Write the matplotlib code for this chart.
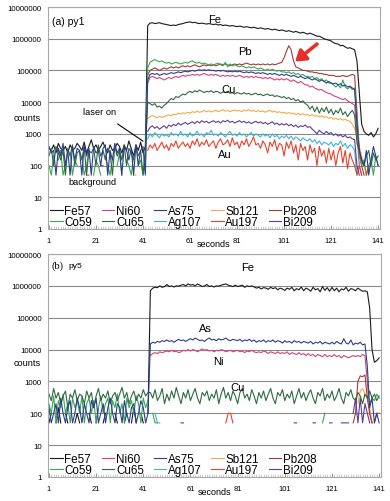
import numpy as np
import matplotlib
matplotlib.use("Agg")
import matplotlib.pyplot as plt
from matplotlib.ticker import FixedLocator, MultipleLocator, NullLocator
import matplotlib.transforms as mtransforms

plt.rcParams['font.family'] = ['Liberation Sans', 'DejaVu Sans']

seconds = list(range(1, 142))
x_ticks = [1, 21, 41, 61, 81, 101, 121, 141]
y_ticks = [1, 10, 100, 1000, 10000, 100000, 1000000, 10000000]

isotopes = ['Fe57', 'Co59', 'Ni60', 'Cu65', 'As75', 'Ag107', 'Sb121', 'Au197', 'Pb208', 'Bi209']
colors = {'Fe57': '#1a1a1a', 'Co59': '#3aa655', 'Ni60': '#d3437a', 'Cu65': '#2d6a3e',
          'As75': '#2c3e8c', 'Ag107': '#3cb4d8', 'Sb121': '#f5a94a', 'Au197': '#e8412c',
          'Pb208': '#a33a3a', 'Bi209': '#5c3d99'}

# ---------------- (a) py1 : s1-42 background, s43-132 signal, s133-141 washout
fe_a = ([350, 300, 450, 250, 500, 350, 300, 400, 250, 450, 300, 350, 500, 400, 300, 550, 250, 400, 650, 350,
         450, 300, 400, 550, 350, 250, 450, 300, 350, 500, 400, 250, 450, 300, 600, 350, 200, 450, 300, 550, 250, 400]
        + [2.6e6, 3.1e6, 3.2e6, 3.0e6, 3.1e6, 3.2e6, 3.0e6, 2.9e6,
           2.8e6, 2.7e6, 2.6e6, 2.7e6, 2.6e6, 2.8e6, 2.9e6, 3.0e6, 3.2e6, 3.3e6,
           3.4e6, 3.2e6, 3.3e6, 3.1e6, 3.0e6, 3.1e6, 3.0e6, 2.9e6, 3.0e6, 2.9e6,
           2.8e6, 2.9e6, 2.7e6, 2.8e6, 2.6e6, 2.7e6, 2.6e6, 2.5e6, 2.6e6, 2.5e6,
           2.4e6, 2.5e6, 2.4e6, 2.3e6, 2.4e6, 2.3e6, 2.2e6, 2.3e6, 2.2e6, 2.1e6,
           2.2e6, 2.1e6, 2.0e6, 2.1e6, 2.0e6, 1.9e6, 2.0e6, 1.9e6, 1.8e6, 1.9e6,
           1.8e6, 1.7e6, 1.8e6, 1.7e6, 1.6e6, 1.7e6, 1.6e6, 1.5e6, 1.6e6, 1.5e6,
           1.4e6, 1.5e6, 1.4e6, 1.3e6, 1.2e6, 1.2e6, 1.1e6, 1.0e6, 9.5e5, 9.0e5,
           8.5e5, 7.5e5, 7.0e5, 6.8e5, 6.0e5, 6.2e5, 5.5e5, 5.0e5, 5.2e5, 4.8e5, 4.5e5, 2.0e5]
        + [2.0e4, 2.0e3, 1.2e3, 1.0e3, 900, 1.1e3, 800, 1.0e3, 1.5e3])

co_a = ([100, 50, 200, 0, 150, 300, 50, 100, 0, 250, 50, 150, 100, 0, 200, 50, 100, 300, 0, 50,
         150, 100, 50, 0, 200, 100, 50, 150, 0, 100, 250, 50, 0, 150, 100, 50, 200, 0, 100, 150, 50, 100]
        + [1.2e5, 1.8e5, 2.0e5, 2.2e5, 2.0e5, 1.9e5, 2.0e5, 1.8e5,
           1.7e5, 1.8e5, 1.6e5, 1.7e5, 1.8e5, 1.7e5, 1.6e5, 1.7e5, 1.8e5, 1.7e5,
           1.9e5, 2.0e5, 1.8e5, 1.7e5, 1.8e5, 1.6e5, 1.7e5, 1.6e5, 1.5e5, 1.6e5,
           1.5e5, 1.6e5, 1.7e5, 1.5e5, 1.4e5, 1.8e5, 1.3e5, 1.6e5, 1.4e5, 1.5e5,
           1.4e5, 1.3e5, 1.4e5, 1.3e5, 1.2e5, 1.3e5, 1.2e5, 1.3e5, 1.2e5, 1.1e5,
           1.2e5, 1.1e5, 1.0e5, 1.1e5, 1.0e5, 1.1e5, 1.0e5, 9.5e4, 1.0e5, 9.0e4,
           9.0e4, 8.5e4, 9.0e4, 8.0e4, 8.5e4, 7.5e4, 8.0e4, 7.0e4, 7.5e4, 6.5e4,
           6.5e4, 6.0e4, 6.5e4, 5.5e4, 6.0e4, 5.0e4, 5.5e4, 4.5e4, 5.0e4, 4.0e4,
           4.0e4, 3.5e4, 3.0e4, 3.5e4, 2.8e4, 5.0e4, 3.0e4, 2.6e4, 3.0e4, 2.5e4, 2.8e4, 3.0e3]
        + [200, 100, 150, 50, 100, 150, 50, 200, 100])

ni_a = ([0] * 16 + [50, 50] + [0] * 24
        + [4.0e4, 6.0e4, 6.5e4, 6.0e4, 5.5e4, 6.0e4, 5.5e4, 5.0e4,
           5.5e4, 6.0e4, 5.5e4, 6.0e4, 6.5e4, 6.0e4, 6.5e4, 7.0e4, 6.5e4, 7.0e4,
           7.0e4, 7.5e4, 7.0e4, 7.5e4, 7.0e4, 7.5e4, 8.0e4, 7.5e4, 7.0e4, 7.5e4,
           7.0e4, 7.5e4, 7.0e4, 6.5e4, 7.0e4, 6.5e4, 7.0e4, 6.5e4, 7.0e4, 6.5e4,
           6.5e4, 7.0e4, 6.5e4, 6.0e4, 6.5e4, 6.0e4, 6.5e4, 6.0e4, 6.5e4, 6.0e4,
           6.0e4, 5.5e4, 6.0e4, 5.5e4, 6.0e4, 5.5e4, 5.0e4, 5.5e4, 5.0e4, 5.5e4,
           5.0e4, 5.5e4, 5.0e4, 4.5e4, 5.0e4, 4.5e4, 4.0e4, 4.5e4, 4.0e4, 3.5e4,
           3.5e4, 3.0e4, 3.2e4, 2.8e4, 2.6e4, 2.4e4, 2.5e4, 2.2e4, 2.0e4, 1.9e4,
           1.8e4, 1.6e4, 1.5e4, 1.4e4, 1.3e4, 1.2e4, 1.3e4, 1.1e4, 1.0e4, 9.0e3, 8.0e3, 1.0e3]
        + [100, 50, 0, 50, 0, 0, 50, 0, 0])

cu_a = ([200, 350, 100, 400, 250, 150, 300, 50, 350, 200, 450, 100, 250, 300, 150, 400, 50, 300, 250, 350,
         100, 450, 200, 300, 150, 350, 250, 50, 400, 200, 300, 150, 450, 100, 350, 250, 150, 400, 200, 300, 50, 350]
        + [1.0e4, 9.0e3, 8.0e3, 9.0e3, 7.0e3, 7.5e3, 6.5e3, 8.0e3,
           9.0e3, 1.1e4, 1.3e4, 1.2e4, 1.5e4, 1.4e4, 1.6e4, 1.8e4, 1.7e4, 2.0e4,
           2.2e4, 2.0e4, 2.3e4, 2.1e4, 2.4e4, 2.2e4, 2.0e4, 2.2e4, 2.1e4, 2.3e4,
           2.0e4, 2.2e4, 2.1e4, 1.9e4, 2.1e4, 2.0e4, 2.2e4, 1.9e4, 2.0e4, 1.8e4,
           2.0e4, 1.9e4, 1.8e4, 2.0e4, 1.8e4, 1.9e4, 1.7e4, 1.8e4, 1.9e4, 1.7e4,
           1.8e4, 1.6e4, 1.7e4, 1.8e4, 1.6e4, 1.7e4, 1.5e4, 1.6e4, 1.5e4, 1.4e4,
           1.5e4, 1.3e4, 1.4e4, 1.2e4, 1.3e4, 1.1e4, 1.2e4, 1.0e4, 1.1e4, 9.0e3,
           8.0e3, 6.0e3, 7.5e3, 5.0e3, 7.0e3, 4.5e3, 6.5e3, 5.0e3, 7.0e3, 4.5e3,
           6.0e3, 4.0e3, 5.5e3, 4.5e3, 6.5e3, 4.0e3, 5.0e3, 3.5e3, 4.5e3, 5.5e3, 4.0e3, 5.0e2]
        + [300, 150, 100, 200, 300, 100, 250, 150, 200])

as_a = ([400, 250, 300, 50, 350, 200, 500, 100, 300, 50, 400, 150, 350, 300, 50, 450, 200, 350, 50, 400,
         250, 300, 100, 350, 450, 50, 300, 150, 500, 250, 350, 50, 400, 300, 150, 350, 50, 450, 100, 300, 400, 50]
        + [5.0e4, 7.5e4, 8.0e4, 7.5e4, 8.0e4, 7.0e4, 7.5e4, 8.0e4,
           7.5e4, 8.0e4, 8.5e4, 8.0e4, 8.5e4, 9.0e4, 8.5e4, 9.0e4, 9.5e4, 9.0e4,
           9.5e4, 1.0e5, 9.5e4, 1.0e5, 1.05e5, 1.0e5, 1.05e5, 1.0e5, 1.05e5, 1.0e5,
           1.0e5, 9.5e4, 1.0e5, 9.5e4, 1.0e5, 9.5e4, 9.0e4, 9.5e4, 9.0e4, 9.5e4,
           9.0e4, 9.5e4, 9.0e4, 8.5e4, 9.0e4, 8.5e4, 9.0e4, 8.5e4, 8.0e4, 8.5e4,
           8.0e4, 8.5e4, 8.0e4, 7.5e4, 8.0e4, 7.5e4, 8.0e4, 7.5e4, 7.0e4, 7.5e4,
           7.0e4, 7.5e4, 7.0e4, 6.5e4, 7.0e4, 6.5e4, 6.0e4, 6.5e4, 6.0e4, 5.5e4,
           6.0e4, 5.5e4, 5.0e4, 5.5e4, 5.0e4, 4.5e4, 5.0e4, 4.5e4, 4.0e4, 4.5e4,
           4.0e4, 3.8e4, 4.0e4, 3.5e4, 3.8e4, 3.2e4, 3.5e4, 3.0e4, 3.2e4, 2.8e4, 2.5e4, 2.0e3]
        + [300, 150, 100, 300, 50, 150, 400, 200, 100])

ag_a = ([0] * 42
        + [700, 1.0e3, 800, 1.1e3, 900, 750, 1.0e3, 850,
           950, 800, 1.1e3, 900, 1.0e3, 850, 1.2e3, 900, 1.0e3, 800,
           1.1e3, 850, 950, 1.2e3, 900, 1.0e3, 800, 1.1e3, 950, 1.3e3,
           900, 1.0e3, 850, 1.1e3, 950, 800, 1.0e3, 1.2e3, 900, 1.0e3,
           850, 1.1e3, 900, 1.0e3, 800, 950, 1.1e3, 850, 1.0e3, 900,
           800, 1.0e3, 850, 950, 750, 1.0e3, 800, 900, 700, 850,
           750, 900, 700, 850, 650, 800, 700, 600, 750, 650,
           600, 700, 550, 650, 500, 600, 450, 550, 500, 450,
           550, 400, 500, 450, 600, 400, 500, 350, 450, 400, 300, 50]
        + [0, 50, 0, 0, 0, 0, 0, 0, 0])

sb_a = ([0] * 36 + [50, 50] + [0] * 4
        + [3.0e3, 3.5e3, 3.8e3, 3.5e3, 3.2e3, 3.6e3, 3.3e3, 3.5e3,
           3.8e3, 4.0e3, 3.7e3, 4.2e3, 4.0e3, 4.5e3, 4.2e3, 4.6e3, 4.4e3, 4.8e3,
           4.5e3, 5.0e3, 4.7e3, 5.2e3, 4.8e3, 5.0e3, 5.5e3, 5.0e3, 5.3e3, 4.9e3,
           5.2e3, 5.6e3, 5.0e3, 5.4e3, 5.8e3, 5.2e3, 5.5e3, 5.0e3, 5.4e3, 5.7e3,
           5.2e3, 5.5e3, 5.0e3, 5.6e3, 5.3e3, 5.8e3, 5.2e3, 5.5e3, 5.0e3, 5.4e3,
           5.0e3, 5.3e3, 4.8e3, 5.2e3, 5.5e3, 4.9e3, 5.2e3, 4.7e3, 5.0e3, 4.6e3,
           4.8e3, 4.4e3, 4.7e3, 4.3e3, 4.5e3, 4.1e3, 4.4e3, 4.0e3, 4.3e3, 3.9e3,
           4.1e3, 3.7e3, 4.0e3, 3.6e3, 3.8e3, 3.4e3, 3.7e3, 3.3e3, 3.5e3, 3.1e3,
           3.3e3, 2.9e3, 3.1e3, 2.8e3, 3.0e3, 2.7e3, 2.9e3, 2.6e3, 2.5e3, 2.0e3, 1.5e3, 800]
        + [400, 200, 100, 50, 0, 50, 0, 0, 0])

au_a = ([0] * 22 + [100, 100] + [0] * 18
        + [300, 450, 350, 500, 300, 400, 550, 350,
           450, 300, 500, 400, 600, 350, 450, 550, 400, 500,
           350, 600, 450, 700, 400, 550, 450, 650, 400, 500,
           600, 350, 550, 700, 450, 500, 650, 400, 750, 450,
           550, 350, 600, 450, 700, 400, 550, 800, 450, 500,
           350, 600, 450, 250, 550, 400, 650, 300, 500, 450,
           200, 550, 350, 600, 250, 450, 150, 500, 300, 400,
           150, 450, 250, 350, 100, 400, 200, 300, 120, 350,
           150, 300, 100, 250, 400, 120, 300, 80, 250, 150, 100, 50]
        + [100, 50, 0, 50, 100, 0, 50, 0, 50])

pb_a = ([0] * 42
        + [7.0e4, 1.0e5, 1.1e5, 1.2e5, 1.1e5, 1.0e5, 1.1e5, 1.2e5,
           1.1e5, 1.2e5, 1.3e5, 1.2e5, 1.3e5, 1.2e5, 1.3e5, 1.4e5, 1.3e5, 1.4e5,
           1.3e5, 1.4e5, 1.5e5, 1.4e5, 1.3e5, 1.4e5, 1.5e5, 1.4e5, 1.5e5, 1.4e5,
           1.5e5, 1.4e5, 1.5e5, 1.6e5, 1.5e5, 1.6e5, 1.5e5, 1.4e5, 1.5e5, 1.6e5,
           1.5e5, 1.6e5, 1.5e5, 1.6e5, 1.7e5, 1.6e5, 1.5e5, 1.6e5, 1.5e5, 1.6e5,
           1.5e5, 1.6e5, 1.5e5, 1.6e5, 1.5e5, 1.6e5, 1.5e5, 1.6e5, 1.7e5, 1.8e5,
           2.5e5, 4.0e5, 6.0e5, 4.5e5, 2.0e5, 1.3e5, 1.2e5, 1.1e5, 1.0e5, 1.0e5,
           9.5e4, 9.0e4, 9.0e4, 8.5e4, 8.5e4, 8.0e4, 8.0e4, 7.5e4, 7.5e4, 7.0e4,
           7.0e4, 7.0e4, 6.5e4, 6.5e4, 6.5e4, 7.0e4, 6.5e4, 6.5e4, 7.0e4, 7.5e4, 7.0e4, 5.0e3]
        + [300, 100, 50, 0, 50, 0, 0, 50, 0])

bi_a = ([0] * 42
        + [1.2e3, 1.6e3, 1.8e3, 1.5e3, 1.7e3, 1.4e3, 1.6e3, 1.8e3,
           1.5e3, 1.9e3, 1.7e3, 2.0e3, 1.8e3, 2.2e3, 1.9e3, 2.1e3, 2.3e3, 2.0e3,
           2.2e3, 2.4e3, 2.1e3, 2.5e3, 2.2e3, 2.6e3, 2.3e3, 2.5e3, 2.2e3, 2.4e3,
           2.6e3, 2.3e3, 2.5e3, 2.2e3, 2.6e3, 2.4e3, 2.7e3, 2.3e3, 2.5e3, 2.2e3,
           2.4e3, 2.6e3, 2.3e3, 2.5e3, 2.2e3, 2.4e3, 2.1e3, 2.3e3, 2.5e3, 2.2e3,
           2.4e3, 2.1e3, 2.3e3, 2.0e3, 2.2e3, 2.4e3, 2.0e3, 2.2e3, 1.9e3, 2.1e3,
           1.9e3, 2.1e3, 1.8e3, 2.0e3, 1.7e3, 1.9e3, 1.6e3, 1.8e3, 1.7e3, 1.9e3,
           1.6e3, 1.7e3, 1.4e3, 1.2e3, 1.0e3, 1.3e3, 1.1e3, 1.0e3, 1.2e3, 1.0e3,
           1.1e3, 9.0e2, 1.0e3, 8.5e2, 9.5e2, 8.0e2, 9.0e2, 7.5e2, 8.0e2, 7.0e2, 6.5e2, 1.0e2]
        + [50, 0, 0, 50, 0, 0, 0, 0, 0])

# ---------------- (b) py5 : s1-43 background, s44-136 signal, s137-141 washout
fe_b = ([50, 100, 0, 50, 150, 50, 0, 100, 50, 0, 0, 50, 100, 50, 0, 50, 0, 100, 50, 0,
         50, 150, 0, 50, 100, 0, 50, 0, 100, 50, 0, 0, 50, 100, 0, 50, 150, 50, 0, 100, 50, 0, 100]
        + [7.0e5, 8.5e5, 9.0e5, 8.8e5, 1.0e6, 9.0e5, 9.5e5,
           1.1e6, 9.5e5, 1.0e6, 9.2e5, 1.0e6, 9.8e5, 1.05e6, 1.1e6, 1.0e6, 1.15e6,
           1.05e6, 1.1e6, 1.0e6, 1.15e6, 1.05e6, 9.5e5, 1.0e6, 1.1e6, 9.5e5, 1.0e6,
           9.2e5, 1.0e6, 9.8e5, 1.05e6, 1.1e6, 1.15e6, 1.05e6, 1.0e6, 9.5e5, 1.05e6,
           9.5e5, 1.0e6, 1.05e6, 9.0e5, 1.0e6, 9.5e5, 1.0e6, 9.2e5, 8.5e5, 9.0e5,
           8.0e5, 8.8e5, 8.5e5, 7.8e5, 9.0e5, 8.2e5, 8.8e5, 7.5e5, 8.5e5, 8.0e5,
           7.2e5, 8.5e5, 7.8e5, 9.0e5, 7.0e5, 8.2e5, 7.5e5, 9.2e5, 7.0e5, 8.5e5,
           7.8e5, 6.8e5, 9.0e5, 7.5e5, 8.2e5, 6.5e5, 9.5e5, 7.2e5, 8.8e5, 6.8e5,
           9.0e5, 7.0e5, 8.5e5, 6.5e5, 8.0e5, 7.5e5, 9.0e5, 6.8e5, 8.2e5, 7.8e5,
           7.0e5, 8.5e5, 7.5e5, 6.8e5, 7.0e5, 6.5e5]
        + [2.0e5, 1.0e4, 4.0e3, 4.5e3, 5.5e3])

co_b = ([200, 100, 350, 50, 250, 150, 400, 100, 200, 50, 300, 150, 250, 100, 350, 50, 200, 300, 100, 250,
         50, 150, 350, 100, 200, 300, 50, 250, 150, 400, 100, 200, 50, 300, 150, 250, 100, 350, 200, 50,
         300, 150, 250]
        + [0, 100, 50, 50] + [0] * 69 + [50, 100] + [0] * 18
        + [200, 300, 250, 400, 300])

ni_b = ([0] * 43
        + [6.5e3, 7.5e3, 8.0e3, 7.5e3, 8.5e3, 8.0e3, 8.5e3,
           9.0e3, 8.5e3, 9.5e3, 8.5e3, 9.0e3, 8.0e3, 8.5e3, 9.5e3, 9.0e3, 1.0e4,
           9.0e3, 1.0e4, 9.5e3, 8.5e3, 9.5e3, 1.05e4, 9.5e3, 1.0e4, 9.0e3, 9.5e3,
           8.5e3, 9.5e3, 9.0e3, 1.0e4, 9.5e3, 8.5e3, 9.0e3, 9.5e3, 8.5e3, 9.0e3,
           9.5e3, 8.5e3, 9.0e3, 8.0e3, 9.0e3, 8.5e3, 9.5e3, 8.5e3, 8.0e3, 8.5e3,
           8.0e3, 9.0e3, 8.5e3, 7.5e3, 8.5e3, 8.0e3, 7.5e3, 8.5e3, 7.5e3, 8.0e3,
           7.5e3, 8.5e3, 7.0e3, 8.0e3, 7.5e3, 7.0e3, 8.0e3, 7.0e3, 7.5e3, 6.5e3,
           7.5e3, 6.5e3, 7.0e3, 6.0e3, 7.0e3, 6.5e3, 6.0e3, 7.0e3, 6.0e3, 6.5e3,
           6.0e3, 7.0e3, 6.0e3, 6.5e3, 5.5e3, 6.5e3, 6.0e3, 5.5e3, 6.0e3, 6.5e3,
           6.0e3, 6.5e3, 6.0e3, 7.0e3, 6.5e3, 1.0e3]
        + [100, 50, 0, 0, 0])

cu_b = ([400, 250, 600, 300, 450, 200, 350, 500, 150, 400, 300, 550, 250, 400, 350, 200, 500, 300, 450, 150,
         350, 600, 250, 400, 300, 500, 200, 350, 450, 250, 400, 650, 300, 450, 200, 350, 500, 250, 400, 300,
         550, 350, 450]
        + [450, 300, 550, 250, 350, 600, 200,
           400, 250, 500, 300, 650, 350, 200, 450, 300, 550,
           250, 400, 600, 300, 200, 450, 350, 500, 250, 400,
           300, 550, 200, 400, 650, 300, 450, 250, 500, 350,
           200, 450, 600, 300, 400, 250, 550, 350, 200, 450,
           300, 500, 250, 400, 600, 300, 200, 450, 350, 550,
           250, 400, 300, 500, 200, 350, 600, 300, 450, 250,
           400, 550, 300, 200, 450, 350, 600, 250, 400, 300,
           500, 250, 350, 600, 300, 200, 450, 350, 550, 300,
           250, 450, 350, 200, 400, 300]
        + [500, 300, 400, 250, 350])

as_b = ([150, 50, 100, 200, 50, 300, 100, 50, 150, 250, 50, 100, 300, 150, 50, 200, 100, 50, 250, 150,
         300, 50, 100, 200, 50, 150, 300, 100, 50, 200, 150, 50, 250, 100, 50, 150, 200, 50, 100, 250,
         150, 50, 100]
        + [1.5e4, 1.7e4, 1.6e4, 1.8e4, 1.7e4, 1.9e4, 1.8e4,
           2.0e4, 1.8e4, 1.9e4, 1.7e4, 1.9e4, 2.1e4, 1.9e4, 2.0e4, 1.8e4, 2.0e4,
           2.2e4, 2.0e4, 2.3e4, 2.1e4, 1.9e4, 2.0e4, 1.8e4, 2.1e4, 2.3e4, 2.0e4,
           2.1e4, 1.9e4, 2.2e4, 2.0e4, 2.1e4, 2.3e4, 2.0e4, 1.9e4, 2.1e4, 2.0e4,
           1.9e4, 2.1e4, 1.8e4, 2.0e4, 1.9e4, 2.1e4, 1.8e4, 2.0e4, 1.7e4, 1.9e4,
           1.8e4, 2.0e4, 1.7e4, 1.9e4, 1.8e4, 2.0e4, 1.7e4, 1.9e4, 1.8e4, 1.6e4,
           1.9e4, 1.7e4, 1.8e4, 1.6e4, 1.9e4, 1.7e4, 1.8e4, 1.6e4, 1.8e4, 1.7e4,
           1.6e4, 1.8e4, 1.5e4, 1.7e4, 1.6e4, 1.8e4, 1.5e4, 1.7e4, 1.6e4, 1.5e4,
           1.7e4, 1.5e4, 1.8e4, 1.6e4, 1.5e4, 2.2e4, 1.6e4, 1.5e4, 2.0e4, 1.4e4,
           1.6e4, 1.5e4, 1.7e4, 1.4e4, 1.5e4, 3.0e3]
        + [150, 300, 50, 100, 50])

ag_b = [0] * 43 + [0, 0, 100, 50, 50] + [0] * 88 + [0, 0, 0, 0, 0]
sb_b = [0] * 43 + [0] * 88 + [200, 500, 600, 400, 300] + [150, 50, 0, 0, 0]
au_b = [0] * 43 + [0] * 32 + [50, 100, 100, 50] + [0] * 57 + [0, 0, 50, 100, 100]
pb_b = [0] * 43 + [0] * 86 + [50, 100, 1000, 1500, 1400, 1600, 300] + [100, 50, 0, 0, 0]
bi_b = ([0] * 43
        + [0] * 13 + [50, 50] + [0] * 46 + [50, 50] + [0] * 6 + [50, 50] + [0] * 5 + [50, 50]
        + [0] * 3 + [50, 50, 50, 50] + [0] + [100, 300, 50, 300, 50, 200, 100]
        + [50, 0, 0, 0, 0])

panel_a = {'Fe57': fe_a, 'Co59': co_a, 'Ni60': ni_a, 'Cu65': cu_a, 'As75': as_a,
           'Ag107': ag_a, 'Sb121': sb_a, 'Au197': au_a, 'Pb208': pb_a, 'Bi209': bi_a}
panel_b = {'Fe57': fe_b, 'Co59': co_b, 'Ni60': ni_b, 'Cu65': cu_b, 'As75': as_b,
           'Ag107': ag_b, 'Sb121': sb_b, 'Au197': au_b, 'Pb208': pb_b, 'Bi209': bi_b}

draw_order = ['Fe57', 'Ni60', 'Sb121', 'Pb208', 'Co59', 'Ag107', 'Au197', 'Bi209', 'Cu65', 'As75']

fig = plt.figure(figsize=(3.9, 5.02), dpi=100)
ax_a = fig.add_axes([48 / 390, 1 - 230 / 502, 332 / 390, 222 / 502])
ax_b = fig.add_axes([48 / 390, 1 - 478 / 502, 333 / 390, 223 / 502])


def setup(ax, data):
    handles = {}
    for name in draw_order:
        y = np.array(data[name], dtype=float)
        y[y <= 0] = np.nan
        ln, = ax.plot(seconds, y, color=colors[name], lw=0.8, label=name)
        handles[name] = ln
    ax.set_yscale('log')
    ax.set_ylim(1, 1e7)
    ax.set_xlim(0.6, 141.8)
    ax.yaxis.set_major_locator(FixedLocator(y_ticks))
    ax.yaxis.set_minor_locator(NullLocator())
    ax.set_yticklabels([str(v) for v in y_ticks])
    ax.xaxis.set_major_locator(FixedLocator(x_ticks))
    ax.xaxis.set_minor_locator(MultipleLocator(1))
    ax.set_xticklabels([str(v) for v in x_ticks])
    ax.grid(axis='y', which='major', color='#8a8a8a', lw=0.8)
    ax.set_axisbelow(True)
    ax.tick_params(axis='y', length=0, pad=4.5, labelsize=5.7)
    ax.tick_params(axis='x', which='major', direction='in', length=3, pad=6,
                   labelsize=5.5, color='#999999')
    ax.tick_params(axis='x', which='minor', direction='in', length=2, color='#bbbbbb', width=0.5)
    for s in ax.spines.values():
        s.set_color('#a8a8a8')
        s.set_linewidth(0.8)
    ax.set_xlabel('seconds', fontsize=6.5, labelpad=-4)
    ax.legend([handles[n] for n in isotopes], isotopes, ncol=5, loc='lower left',
              bbox_to_anchor=(0.0, -0.005), frameon=False, fontsize=8.4,
              handlelength=1.05, handletextpad=0.15, columnspacing=0.85,
              labelspacing=-0.12, borderaxespad=0.0, borderpad=0.2)
    return mtransforms.blended_transform_factory(ax.transAxes, ax.transData)


tr_a = setup(ax_a, panel_a)
tr_b = setup(ax_b, panel_b)

# panel (a) annotations
ax_a.text(0.012, 0.937, '(a) py1', transform=ax_a.transAxes, fontsize=7.5, va='center')
ax_a.text(-0.063, 3400, 'counts', transform=tr_a, fontsize=6.6, ha='center', va='center')
ax_a.text(71.6, 4.2e6, 'Fe', fontsize=8, ha='center', va='center')
ax_a.text(84.4, 4.1e5, 'Pb', fontsize=8, ha='center', va='center')
ax_a.text(77.2, 2.6e4, 'Cu', fontsize=8, ha='center', va='center')
ax_a.text(75.9, 230, 'Au', fontsize=8, ha='center', va='center')
ax_a.text(19.3, 32, 'background', fontsize=6.6, ha='center', va='center')
ax_a.annotate('laser on', xy=(41, 590), xytext=(22.7, 4900), fontsize=6.7,
              ha='center', va='center',
              arrowprops=dict(arrowstyle='-', color='black', lw=0.8, shrinkA=6, shrinkB=0))
ax_a.annotate('', xy=(105.7, 1.9e5), xytext=(115, 6.8e5),
              arrowprops=dict(arrowstyle='-|>,head_length=0.6,head_width=0.4',
                              color='#e8302a', lw=2.6, shrinkA=0, shrinkB=0))

# panel (b) annotations
ax_b.text(0.012, 0.95, '(b)', transform=ax_b.transAxes, fontsize=7.5, va='center',
          family='Liberation Serif')
ax_b.text(0.06, 0.948, 'py5', transform=ax_b.transAxes, fontsize=6, va='center')
ax_b.text(-0.063, 3800, 'counts', transform=tr_b, fontsize=6.6, ha='center', va='center')
ax_b.text(85.3, 3.9e6, 'Fe', fontsize=8, ha='center', va='center')
ax_b.text(67.4, 4.8e4, 'As', fontsize=8, ha='center', va='center')
ax_b.text(72.9, 4400, 'Ni', fontsize=8, ha='center', va='center')
ax_b.text(81, 680, 'Cu', fontsize=8, ha='center', va='center')

fig.savefig('out.png', dpi=100)
